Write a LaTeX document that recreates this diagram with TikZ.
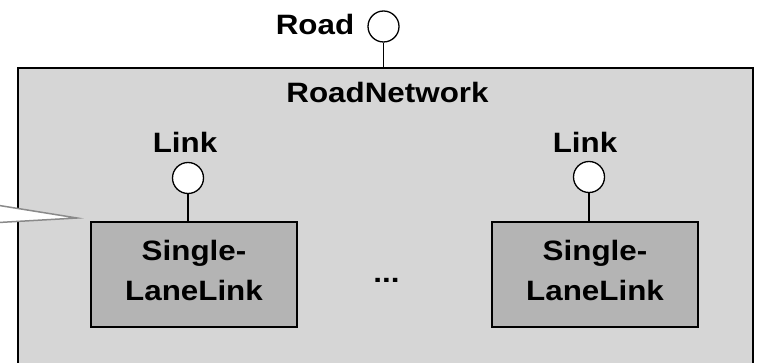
\documentclass[tikz,border=0pt]{standalone}
\usepackage{fontspec}
\setmainfont[FakeStretch=1.12]{Liberation Sans}
\definecolor{netgray}{HTML}{D6D6D6}
\definecolor{boxgray}{HTML}{B4B4B4}
\definecolor{callgray}{HTML}{8A8A8A}
\begin{document}
\begin{tikzpicture}[x=1pt,y=-1pt,
  lbl/.style={font=\fontsize{28}{40}\selectfont\bfseries, inner sep=0pt, anchor=base},
  port/.style={circle, draw=black, fill=white, line width=1.3pt, minimum size=31pt, inner sep=0pt},
  netbox/.style={draw=black, fill=netgray, line width=1.5pt, minimum width=735pt, minimum height=320pt, inner sep=0pt},
  partbox/.style={draw=black, fill=boxgray, line width=1.5pt, minimum width=206pt, minimum height=105pt, inner sep=0pt,
    align=center, text depth=8pt, font=\fontsize{28}{40}\selectfont\bfseries},
  wire/.style={draw=black, line width=1.3pt}]
\clip (0,0) rectangle (757,363);
\fill[white] (0,0) rectangle (757,363);
\node[netbox] (net) at (385.5,228) {};
\node[lbl] (netlbl) at (387.5,103) {RoadNetwork};
% callout tip
\coordinate (ct1) at (-10,204);
\coordinate (tip) at (77,218);
\coordinate (ct2) at (-10,223);
\filldraw[fill=white, draw=callgray, line width=1.5pt, line join=miter] (ct1) -- (tip) -- (ct2);
% Road port
\node[port] (road) at (383.5,26.5) {};
\node[lbl] (roadlbl) at (315,35) {Road};
\draw[wire] (road.south) -- (road.south |- net.north);
% parts
\node[partbox] (p1) at (194,274.5) {Single-\\LaneLink};
\node[partbox] (p2) at (595,274.5) {Single-\\LaneLink};
\node[port] (l1) at (188,178) {};
\node[port] (l2) at (589,177) {};
\node[lbl] (l1lbl) at (185,153) {Link};
\node[lbl] (l2lbl) at (585,153) {Link};
\draw[wire] (l1.south) -- (l1.south |- p1.north);
\draw[wire] (l2.south) -- (l2.south |- p2.north);
\node[lbl] (dots) at (386.5,283) {...};
\end{tikzpicture}
\end{document}
